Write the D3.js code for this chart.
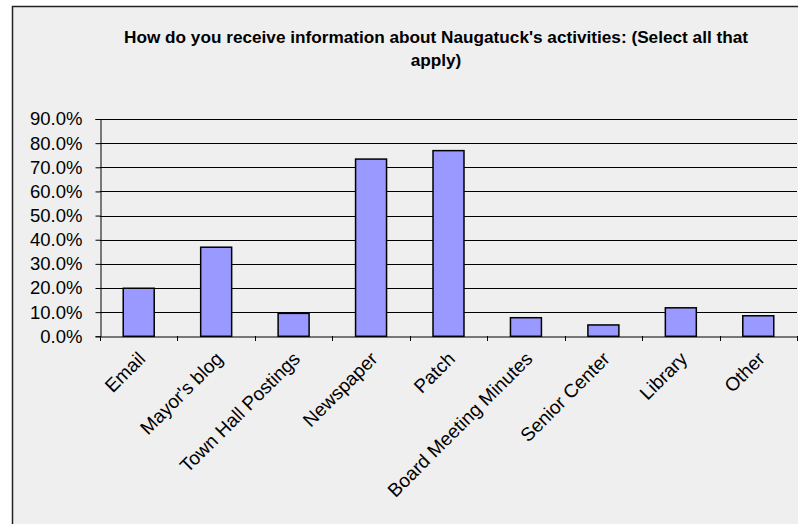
<!DOCTYPE html>
<html><head><meta charset="utf-8">
<script src="https://cdn.jsdelivr.net/npm/d3@7"></script>
<style>html,body{margin:0;padding:0;background:#fff;}svg{display:block;}</style>
</head><body>
<svg id="c" width="798" height="524"></svg>
<script>
const categories = ["Email","Mayor's blog","Town Hall Postings","Newspaper","Patch","Board Meeting Minutes","Senior Center","Library","Other"];
const values = [0.199, 0.369, 0.095, 0.734, 0.769, 0.077, 0.047, 0.118, 0.085];
const yTicks = [0,0.1,0.2,0.3,0.4,0.5,0.6,0.7,0.8,0.9];
const titleLines = ["How do you receive information about Naugatuck's activities: (Select all that","apply)"];

const svg = d3.select("#c");
svg.append("rect").attr("x",12.5).attr("y",6.5).attr("width",900).attr("height",600)
  .attr("fill","#efefef").attr("stroke","#222").attr("stroke-width",1.5);

const pLeft=100, pRight=797, pTop=119, pBottom=336.3;
const x = d3.scaleBand().domain(categories).range([pLeft,pRight]).paddingInner(0.6).paddingOuter(0.3);
const y = d3.scaleLinear().domain([0,0.9]).range([pBottom,pTop]);

// gridlines
svg.append("g").selectAll("line").data(yTicks.slice(1)).join("line")
  .attr("x1",pLeft).attr("x2",pRight).attr("y1",d=>Math.round(y(d))+0.5).attr("y2",d=>Math.round(y(d))+0.5)
  .attr("stroke","#000").attr("stroke-width",1);

// bars
svg.append("g").selectAll("rect").data(values).join("rect")
  .attr("x",(d,i)=>x(categories[i])).attr("width",x.bandwidth())
  .attr("y",d=>y(d)).attr("height",d=>y(0)-y(d))
  .attr("fill","#9999ff").attr("stroke","#000").attr("stroke-width",1.5);

// y axis
const ya = svg.append("g").attr("transform",`translate(${pLeft+0.5},0)`)
  .call(d3.axisLeft(y).tickValues(yTicks).tickFormat(d3.format(".1%")).tickSize(5).tickPadding(13));
ya.select(".domain").attr("stroke","#000");
ya.selectAll(".tick line").attr("stroke","#000");
ya.selectAll("text").attr("font-family","Liberation Sans, Arial, sans-serif").attr("font-size",18.5).attr("fill","#000");

// x axis
const xOuter = d3.scaleBand().domain(categories).range([pLeft,pRight]);
const xa = svg.append("g").attr("transform",`translate(0,${Math.round(pBottom)+0.5})`)
  .call(d3.axisBottom(xOuter).tickSize(0).tickFormat(""));
xa.select(".domain").attr("stroke","#000");
svg.append("g").selectAll("line").data(categories.concat([null])).join("line")
  .attr("x1",(d,i)=>Math.round(pLeft+i*xOuter.step())+0.5).attr("x2",(d,i)=>Math.round(pLeft+i*xOuter.step())+0.5)
  .attr("y1",Math.round(pBottom)).attr("y2",Math.round(pBottom)+5).attr("stroke","#000");
svg.append("g").selectAll("text").data(categories).join("text")
  .attr("transform",d=>`translate(${x(d)+x.bandwidth()/2+3},${pBottom+19}) rotate(-45)`)
  .attr("text-anchor","end").attr("dy","0.35em")
  .attr("font-family","Liberation Sans, Arial, sans-serif").attr("font-size",19).attr("fill","#000")
  .text(d=>d);

// title
const t = svg.append("text").attr("text-anchor","middle")
  .attr("font-family","Liberation Sans Narrow, Arial Narrow, Liberation Sans, sans-serif")
  .attr("font-size",17.2).attr("font-weight","bold").attr("fill","#000");
t.selectAll("tspan").data(titleLines).join("tspan")
  .attr("x",436).attr("y",(d,i)=>43+i*23).text(d=>d);
</script>
</body></html>
